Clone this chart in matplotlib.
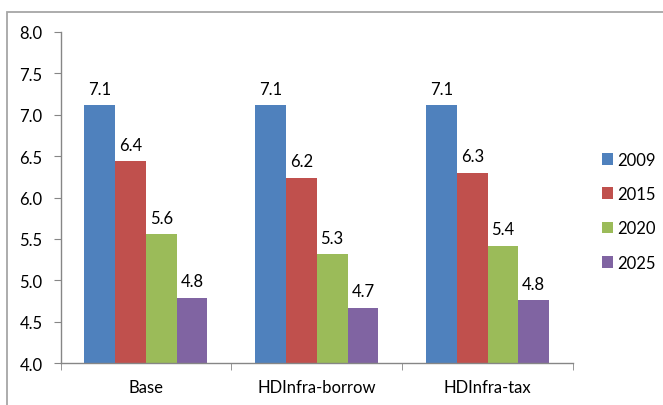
import matplotlib
matplotlib.use("Agg")
import matplotlib.pyplot as plt
import numpy as np
from matplotlib.patches import Rectangle

# data
scenarios = ["Base", "HDInfra-borrow", "HDInfra-tax"]
years = ["2009", "2015", "2020", "2025"]
v2009 = [7.11, 7.11, 7.11]
v2015 = [6.44, 6.24, 6.30]
v2020 = [5.56, 5.32, 5.42]
v2025 = [4.79, 4.67, 4.76]
series = [v2009, v2015, v2020, v2025]
colors = ["#4F81BD", "#C0504D", "#9BBB59", "#8064A2"]

plt.rcParams['font.family'] = ['Lato', 'DejaVu Sans']
plt.rcParams['font.size'] = 12

fig = plt.figure(figsize=(6.63, 4.06), dpi=100)
ax = fig.add_axes([60.5/663, 1-364.3/406, (573-60.5)/663, (364.3-32.7)/406])

x = np.arange(len(scenarios))
w = 0.18
for i, (vals, c) in enumerate(zip(series, colors)):
    pos = x + (i - 1.5) * w
    ax.bar(pos, vals, w, color=c, label=years[i], zorder=2)
    for p, v in zip(pos, vals):
        ax.annotate(f"{v:.1f}", (p, v), xytext=(0, 6), textcoords="offset points",
                    ha="center", va="bottom")

ax.set_ylim(4.0, 8.0)
ax.set_xlim(-0.5, 2.5)
yt = np.arange(4.0, 8.01, 0.5)
ax.set_yticks(yt)
ax.set_yticklabels([f"{t:.1f}" for t in yt])
ax.set_xticks(x)
ax.set_xticklabels(scenarios)
ax.set_xticks([-0.5, 0.5, 1.5, 2.5], minor=True)
ax.tick_params(axis="x", which="major", length=0, pad=11)
ax.tick_params(axis="x", which="minor", length=5, direction="out", color="#868686")
ax.tick_params(axis="y", length=5, direction="out", color="#868686", pad=8)

for s in ["top", "right"]:
    ax.spines[s].set_visible(False)
for s in ["left", "bottom"]:
    ax.spines[s].set_color("#868686")
    ax.spines[s].set_linewidth(1.0)

ax.legend(loc="center left", bbox_to_anchor=(601.7/663, 1-212.2/406),
          bbox_transform=fig.transFigure, frameon=False, borderpad=0,
          borderaxespad=0, handlelength=0.7, handleheight=0.7,
          handletextpad=0.25, labelspacing=1.1)

fig.patches.append(Rectangle((7/663, -0.1), 1.2, 1 - 13/406 + 0.1,
                             transform=fig.transFigure, fill=False,
                             edgecolor="#a6a6a6", lw=1.3, clip_on=False))

fig.savefig("out.png", dpi=100)
